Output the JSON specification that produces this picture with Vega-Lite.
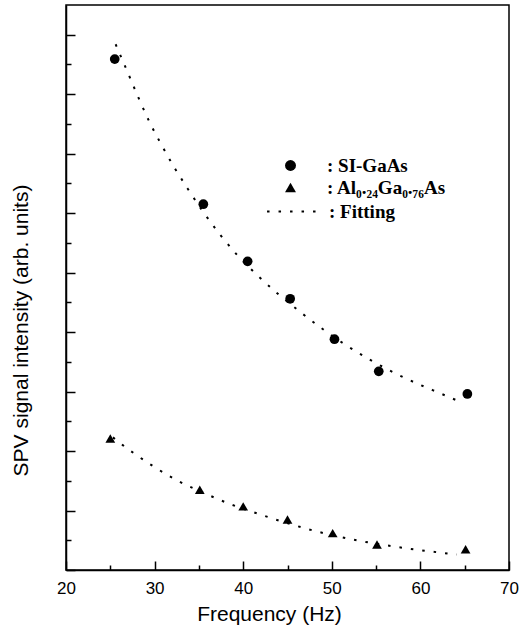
{
  "$schema": "https://vega.github.io/schema/vega-lite/v6.json",
  "width": 443,
  "height": 565,
  "autosize": {"type": "none"},
  "padding": {"left": 66, "top": 5, "right": 16, "bottom": 58},
  "background": "white",
  "datasets": {
    "points": [
      {"freq": 25.5, "val": 8.59, "series": "SI-GaAs"},
      {"freq": 35.5, "val": 6.15, "series": "SI-GaAs"},
      {"freq": 40.5, "val": 5.19, "series": "SI-GaAs"},
      {"freq": 45.3, "val": 4.56, "series": "SI-GaAs"},
      {"freq": 50.3, "val": 3.88, "series": "SI-GaAs"},
      {"freq": 55.3, "val": 3.34, "series": "SI-GaAs"},
      {"freq": 65.3, "val": 2.96, "series": "SI-GaAs"},
      {"freq": 25.0, "val": 2.21, "series": "Al0.24Ga0.76As"},
      {"freq": 35.1, "val": 1.35, "series": "Al0.24Ga0.76As"},
      {"freq": 40.0, "val": 1.07, "series": "Al0.24Ga0.76As"},
      {"freq": 45.0, "val": 0.85, "series": "Al0.24Ga0.76As"},
      {"freq": 50.1, "val": 0.62, "series": "Al0.24Ga0.76As"},
      {"freq": 55.1, "val": 0.43, "series": "Al0.24Ga0.76As"},
      {"freq": 65.1, "val": 0.35, "series": "Al0.24Ga0.76As"}
    ],
    "fits": [
      {"freq": 25.6, "val": 8.84, "curve": "SI-GaAs fit"},
      {"freq": 26.7, "val": 8.46, "curve": "SI-GaAs fit"},
      {"freq": 28.3, "val": 7.90, "curve": "SI-GaAs fit"},
      {"freq": 29.4, "val": 7.54, "curve": "SI-GaAs fit"},
      {"freq": 30.7, "val": 7.17, "curve": "SI-GaAs fit"},
      {"freq": 32.1, "val": 6.80, "curve": "SI-GaAs fit"},
      {"freq": 33.7, "val": 6.42, "curve": "SI-GaAs fit"},
      {"freq": 35.4, "val": 6.04, "curve": "SI-GaAs fit"},
      {"freq": 39.3, "val": 5.30, "curve": "SI-GaAs fit"},
      {"freq": 41.7, "val": 4.94, "curve": "SI-GaAs fit"},
      {"freq": 46.6, "val": 4.32, "curve": "SI-GaAs fit"},
      {"freq": 51.4, "val": 3.80, "curve": "SI-GaAs fit"},
      {"freq": 57.4, "val": 3.29, "curve": "SI-GaAs fit"},
      {"freq": 62.4, "val": 2.96, "curve": "SI-GaAs fit"},
      {"freq": 64.8, "val": 2.81, "curve": "SI-GaAs fit"},
      {"freq": 25.3, "val": 2.23, "curve": "AlGaAs fit"},
      {"freq": 26.4, "val": 2.10, "curve": "AlGaAs fit"},
      {"freq": 27.6, "val": 1.97, "curve": "AlGaAs fit"},
      {"freq": 30.0, "val": 1.73, "curve": "AlGaAs fit"},
      {"freq": 32.5, "val": 1.51, "curve": "AlGaAs fit"},
      {"freq": 36.1, "val": 1.26, "curve": "AlGaAs fit"},
      {"freq": 38.5, "val": 1.11, "curve": "AlGaAs fit"},
      {"freq": 42.2, "val": 0.92, "curve": "AlGaAs fit"},
      {"freq": 47.0, "val": 0.70, "curve": "AlGaAs fit"},
      {"freq": 52.1, "val": 0.52, "curve": "AlGaAs fit"},
      {"freq": 56.8, "val": 0.40, "curve": "AlGaAs fit"},
      {"freq": 61.8, "val": 0.30, "curve": "AlGaAs fit"},
      {"freq": 64.1, "val": 0.26, "curve": "AlGaAs fit"}
    ]
  },
  "config": {
    "view": {"stroke": "black", "strokeWidth": 1.5},
    "axis": {
      "grid": false,
      "domainColor": "black",
      "domainWidth": 1.5,
      "tickColor": "black",
      "tickWidth": 1.5,
      "labelColor": "black",
      "titleColor": "black",
      "labelFont": "Liberation Sans",
      "titleFont": "Liberation Sans",
      "labelFontSize": 17,
      "titleFontSize": 21,
      "titleFontWeight": "normal"
    },
    "legend": {
      "labelFont": "Liberation Serif",
      "labelFontWeight": "bold",
      "labelFontSize": 19,
      "labelColor": "black"
    }
  },
  "encoding": {
    "x": {
      "field": "freq",
      "type": "quantitative",
      "scale": {"domain": [20, 70], "nice": false, "zero": false},
      "axis": {
        "title": "Frequency (Hz)",
        "values": [20, 25, 30, 35, 40, 45, 50, 55, 60, 65, 70],
        "labelExpr": "datum.value % 10 === 0 ? datum.label : ''",
        "tickSize": {"condition": {"test": "datum.value % 10 === 0", "value": -9}, "value": -5},
        "labelPadding": 19,
        "labelFlush": false,
        "titleX": 203,
        "titleY": 50,
        "titleBaseline": "alphabetic"
      }
    },
    "y": {
      "field": "val",
      "type": "quantitative",
      "scale": {"domain": [0, 9.5], "nice": false, "zero": false},
      "axis": {
        "title": "SPV signal intensity (arb. units)",
        "values": [0, 0.5, 1, 1.5, 2, 2.5, 3, 3.5, 4, 4.5, 5, 5.5, 6, 6.5, 7, 7.5, 8, 8.5, 9],
        "labels": false,
        "tickSize": {"condition": {"test": "datum.value % 1 === 0", "value": -9}, "value": -5},
        "titleX": -39,
        "titleY": 325,
        "titleBaseline": "alphabetic"
      }
    }
  },
  "layer": [
    {
      "data": {"name": "fits"},
      "mark": {"type": "line", "color": "black", "strokeWidth": 2, "interpolate": "monotone"},
      "encoding": {
        "detail": {"field": "curve"},
        "strokeDash": {
          "datum": "Fitting",
          "type": "nominal",
          "scale": {"domain": ["Fitting"], "range": [[2.5, 9]]},
          "legend": {
            "title": null,
            "orient": "none",
            "legendX": 200,
            "legendY": 179,
            "symbolType": "stroke",
            "symbolSize": 2800,
            "symbolStrokeWidth": 2,
            "symbolStrokeColor": "black",
            "labelOffset": 8,
            "labelExpr": "':  ' + datum.label"
          }
        }
      }
    },
    {
      "data": {"name": "points"},
      "mark": {"type": "point", "filled": true, "color": "black", "opacity": 1, "size": 95},
      "encoding": {
        "shape": {
          "field": "series",
          "type": "nominal",
          "scale": {"domain": ["SI-GaAs", "Al0.24Ga0.76As"], "range": ["circle", "triangle-up"]},
          "legend": {
            "title": null,
            "orient": "none",
            "legendX": 215,
            "legendY": 151,
            "symbolSize": 120,
            "symbolFillColor": "black",
            "labelOffset": 27,
            "rowPadding": 2,
            "labelExpr": "':  ' + (datum.value === 'Al0.24Ga0.76As' ? 'Al₀.₂₄Ga₀.₇₆As' : datum.label)"
          }
        }
      }
    }
  ]
}
